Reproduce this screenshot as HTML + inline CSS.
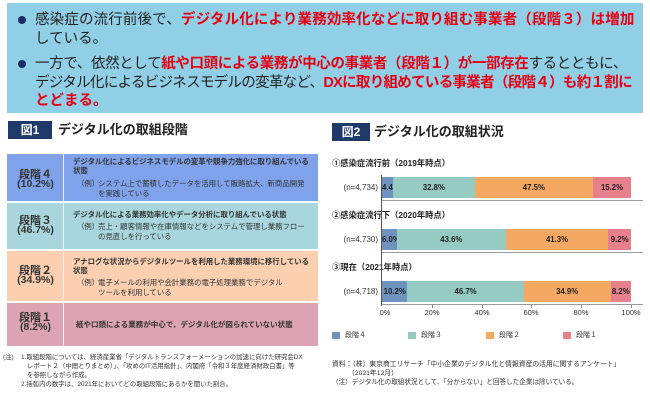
<!DOCTYPE html>
<html><head><meta charset="utf-8">
<style>
*{margin:0;padding:0;box-sizing:border-box;}
html,body{width:650px;height:403px;background:#fff;overflow:hidden;}
body{position:relative;font-family:"Liberation Sans","Noto Sans CJK JP",sans-serif;color:#333;}
.a{position:absolute;white-space:nowrap;}
.top{position:absolute;left:7px;top:3px;width:636px;height:110px;background:#90cfe6;}
.tl{position:absolute;white-space:nowrap;font-size:14.5px;line-height:18px;color:#222;left:35px;}
.tl b{color:#e60012;font-weight:bold;}
.dot{position:absolute;left:18px;width:8px;height:8px;border-radius:50%;background:#1b2f66;}
.hdr{position:absolute;background:#1f3a68;color:#fff;font-weight:bold;font-size:12px;text-align:center;}
.ttl{position:absolute;font-weight:bold;font-size:13px;line-height:16px;color:#222;white-space:nowrap;}
.row{position:absolute;left:7px;width:311px;}
.lab{position:absolute;left:7px;width:57px;text-align:center;font-weight:bold;color:#333;white-space:nowrap;}
.rb{position:absolute;left:73px;font-size:7.4px;line-height:10px;font-weight:bold;color:#333;white-space:nowrap;}
.re{position:absolute;font-size:7.4px;line-height:10px;color:#333;white-space:nowrap;}
.note{position:absolute;font-size:6.4px;line-height:9px;color:#333;white-space:nowrap;}
.seg{position:absolute;height:21px;font-size:7.8px;font-weight:bold;line-height:21px;text-align:center;color:#222;overflow:visible;white-space:nowrap;}
.c4{background:#6f93bf;}.c3{background:#95cbc3;}.c2{background:#f4a862;}.c1{background:#e8808b;}
.clab{position:absolute;left:332px;font-size:8.3px;font-weight:bold;line-height:10px;color:#222;white-space:nowrap;}
.n{position:absolute;right:272px;font-size:8px;line-height:10px;color:#333;white-space:nowrap;}
.base{position:absolute;left:382px;width:261px;height:1.5px;background:#9a9a9a;}
.tick{position:absolute;top:305px;width:1px;height:3px;background:#888;}
.tk{position:absolute;top:308px;width:30px;text-align:center;font-size:7.5px;line-height:10px;color:#333;}
.lg{position:absolute;top:332px;width:8px;height:7px;}
.lt{position:absolute;top:331px;font-size:7px;line-height:10px;color:#333;white-space:nowrap;}
</style></head><body>

<div class="top"></div>
<div class="dot" style="top:16px;"></div>
<div class="dot" style="top:60px;"></div>
<div class="tl" style="top:11px;letter-spacing:0.15px;">感染症の流行前後で、<b>デジタル化により業務効率化などに取り組む事業者（段階３）は増加</b></div>
<div class="tl" style="top:30px;">している。</div>
<div class="tl" style="top:55px;letter-spacing:-0.36px;">一方で、依然として<b>紙や口頭による業務が中心の事業者（段階１）が一部存在</b>するとともに、</div>
<div class="tl" style="top:74px;letter-spacing:-0.7px;">デジタル化によるビジネスモデルの変革など、<b>DXに取り組めている事業者（段階４）も約１割に</b></div>
<div class="tl" style="top:92px;"><b>とどまる。</b></div>

<!-- Figure 1 -->
<div class="hdr" style="left:8px;top:121px;width:44px;height:18px;line-height:18px;">図1</div>
<div class="ttl" style="left:58px;top:122px;">デジタル化の取組段階</div>

<div class="row" style="top:154px;height:47px;background:#7fa2ea;"></div>
<div class="row" style="top:203px;height:46px;background:#a9d6dc;"></div>
<div class="row" style="top:251px;height:50px;background:#fbcfb0;"></div>
<div class="row" style="top:303px;height:43px;background:#dba3b3;"></div>
<div class="a" style="left:63px;top:154px;width:1px;height:192px;background:#eef2f8;"></div>

<div class="lab" style="top:169px;font-size:11px;line-height:12px;">段階４</div>
<div class="lab" style="top:179px;font-size:10.5px;line-height:11px;">(10.2%)</div>
<div class="lab" style="top:215px;font-size:11px;line-height:12px;">段階３</div>
<div class="lab" style="top:225px;font-size:10.5px;line-height:11px;">(46.7%)</div>
<div class="lab" style="top:265px;font-size:11px;line-height:12px;">段階２</div>
<div class="lab" style="top:275px;font-size:10.5px;line-height:11px;">(34.9%)</div>
<div class="lab" style="top:312px;font-size:11px;line-height:12px;">段階１</div>
<div class="lab" style="top:322px;font-size:10.5px;line-height:11px;">(8.2%)</div>

<div class="rb" style="top:157px;">デジタル化によるビジネスモデルの変革や競争力強化に取り組んでいる</div>
<div class="rb" style="top:166px;">状態</div>
<div class="re" style="left:77px;top:179px;">（例）</div>
<div class="re" style="left:98px;top:179px;">システム上で蓄積したデータを活用して販路拡大、新商品開発</div>
<div class="re" style="left:98px;top:189px;">を実践している</div>

<div class="rb" style="top:210px;">デジタル化による業務効率化やデータ分析に取り組んでいる状態</div>
<div class="re" style="left:77px;top:222px;">（例）</div>
<div class="re" style="left:98px;top:222px;">売上・顧客情報や在庫情報などをシステムで管理し業務フロー</div>
<div class="re" style="left:98px;top:232px;">の見直しを行っている</div>

<div class="rb" style="top:257px;">アナログな状況からデジタルツールを利用した業務環境に移行している</div>
<div class="rb" style="top:266px;">状態</div>
<div class="re" style="left:77px;top:278px;">（例）</div>
<div class="re" style="left:98px;top:278px;">電子メールの利用や会計業務の電子処理業務でデジタル</div>
<div class="re" style="left:98px;top:288px;">ツールを利用している</div>

<div class="rb" style="left:76px;top:320px;font-size:7.5px;">紙や口頭による業務が中心で、デジタル化が図られていない状態</div>

<div class="note" style="left:3px;top:353px;">(注)</div>
<div class="note" style="left:21px;top:353px;">1.取組段階については、経済産業省「デジタルトランスフォーメーションの加速に向けた研究会DX</div>
<div class="note" style="left:27px;top:362px;">レポート２（中間とりまとめ）」、「攻めのIT活用指針」、内閣府「令和３年度経済財政白書」等</div>
<div class="note" style="left:27px;top:371px;">を参照しながら作成。</div>
<div class="note" style="left:21px;top:380px;">2.括弧内の数字は、2021年においてどの取組段階にあるかを聞いた割合。</div>

<!-- Figure 2 -->
<div class="hdr" style="left:332px;top:123px;width:38px;height:18px;line-height:18px;">図2</div>
<div class="ttl" style="left:374px;top:124px;">デジタル化の取組状況</div>

<div class="clab" style="top:158px;">①感染症流行前（2019年時点）</div>
<div class="clab" style="top:210px;">②感染症流行下（2020年時点）</div>
<div class="clab" style="top:262px;">③現在（2021年時点）</div>

<div class="n" style="top:183px;">(n=4,734)</div>
<div class="n" style="top:235px;">(n=4,730)</div>
<div class="n" style="top:287px;">(n=4,718)</div>

<!-- bar 1 -->
<div class="seg c4" style="top:177px;left:382px;width:11px;">4.4%</div>
<div class="seg c3" style="top:177px;left:393px;width:81.7px;">32.8%</div>
<div class="seg c2" style="top:177px;left:474.7px;width:118.3px;">47.5%</div>
<div class="seg c1" style="top:177px;left:593px;width:38px;">15.2%</div>
<!-- bar 2 -->
<div class="seg c4" style="top:229px;left:382px;width:15px;">6.0%</div>
<div class="seg c3" style="top:229px;left:397px;width:108.6px;">43.6%</div>
<div class="seg c2" style="top:229px;left:505.6px;width:102.8px;">41.3%</div>
<div class="seg c1" style="top:229px;left:608.4px;width:22.6px;">9.2%</div>
<!-- bar 3 -->
<div class="seg c4" style="top:281px;left:382px;width:25.4px;">10.2%</div>
<div class="seg c3" style="top:281px;left:407.4px;width:116.3px;">46.7%</div>
<div class="seg c2" style="top:281px;left:523.7px;width:86.9px;">34.9%</div>
<div class="seg c1" style="top:281px;left:610.6px;width:20.4px;">8.2%</div>

<div class="base" style="top:199.5px;"></div>
<div class="base" style="top:251.5px;"></div>
<div class="base" style="top:303.5px;"></div>
<div class="a" style="left:381px;top:175px;width:1.2px;height:131px;background:#555;"></div>

<div class="tick" style="left:431.8px;"></div>
<div class="tick" style="left:481.6px;"></div>
<div class="tick" style="left:531.4px;"></div>
<div class="tick" style="left:581.2px;"></div>
<div class="tick" style="left:630.5px;"></div>

<div class="tk" style="left:370px;">0%</div>
<div class="tk" style="left:417px;">20%</div>
<div class="tk" style="left:467px;">40%</div>
<div class="tk" style="left:516px;">60%</div>
<div class="tk" style="left:566px;">80%</div>
<div class="tk" style="left:616px;">100%</div>

<div class="lg c4" style="left:332px;"></div><div class="lt" style="left:345px;">段階４</div>
<div class="lg c3" style="left:408px;"></div><div class="lt" style="left:421px;">段階３</div>
<div class="lg c2" style="left:486px;"></div><div class="lt" style="left:499px;">段階２</div>
<div class="lg c1" style="left:563px;"></div><div class="lt" style="left:576px;">段階１</div>

<div class="note" style="left:332px;top:360px;font-size:6.8px;">資料：（株）東京商工リサーチ「中小企業のデジタル化と情報資産の活用に関するアンケート」</div>
<div class="note" style="left:348px;top:369px;font-size:6.8px;">（2021年12月）</div>
<div class="note" style="left:332px;top:378px;font-size:6.6px;">（注）デジタル化の取組状況として、「分からない」と回答した企業は除いている。</div>

</body></html>
